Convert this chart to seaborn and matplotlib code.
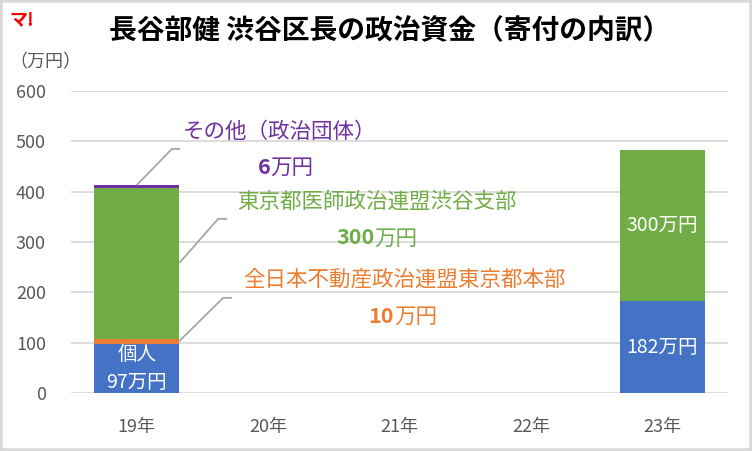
import numpy as np
import matplotlib
matplotlib.use("Agg")
import matplotlib.pyplot as plt
from matplotlib.patches import Rectangle
from matplotlib.offsetbox import TextArea, HPacker, AnnotationBbox
import seaborn as sns

# ---------------- data ----------------
years = ["19年", "20年", "21年", "22年", "23年"]
donors = ["個人", "全日本不動産政治連盟東京都本部", "東京都医師政治連盟渋谷支部", "その他（政治団体）"]
kojin = [97, 0, 0, 0, 182]
fudosan = [10, 0, 0, 0, 0]
ishi = [300, 0, 0, 0, 300]
sonota = [6, 0, 0, 0, 0]
colors = ["#4472C4", "#ED7D31", "#70AD47", "#7030A0"]
yticks = [0, 100, 200, 300, 400, 500, 600]

# ---------------- style ----------------
sns.set_theme(style="white")
plt.rcParams['font.family'] = ['Noto Sans CJK JP', 'DejaVu Sans']

fig = plt.figure(figsize=(7.52, 4.51), dpi=100)
ax = fig.add_axes([71 / 752, 58 / 451, 657 / 752, 302 / 451])

layers = np.array([kojin, fudosan, ishi, sonota])
cum = np.cumsum(layers, axis=0)
bar_w = 0.647

# stacked bars: draw cumulative totals back to front
for i in range(len(layers) - 1, -1, -1):
    sns.barplot(x=years, y=cum[i], color=colors[i], width=bar_w, saturation=1,
                linewidth=0, errorbar=None, ax=ax, zorder=2)

ax.set_xlim(-0.5, len(years) - 0.5)
ax.set_ylim(0, 600)
ax.set_yticks(yticks)
ax.yaxis.grid(True, color="#D9D9D9", lw=1.3)
ax.set_axisbelow(True)
for s in ax.spines.values():
    s.set_visible(False)
ax.tick_params(axis='both', length=0, labelsize=13, labelcolor="#595959")
ax.tick_params(axis='y', pad=18)
ax.tick_params(axis='x', pad=18)
ax.set_xlabel("")
ax.set_ylabel("")

# labels inside bars
bottoms = cum - layers
ax.text(0, (bottoms[0][0] + cum[0][0]) / 2, f"{donors[0]}\n{kojin[0]}万円", ha="center",
        va="center", color="white", fontsize=14, linespacing=1.45, zorder=3)
for i in (0, 2):
    v = layers[i][4]
    ax.text(4, (bottoms[i][4] + cum[i][4]) / 2, f"{v}万円", ha="center", va="center",
            color="white", fontsize=14, zorder=3)

# callouts for 19年 bar
callouts = {
    3: dict(name=(1.09, 519), value=(1.135, 448),
            line=[(0.0, 413), (0.268, 485), (0.331, 485)]),
    2: dict(name=(1.828, 380), value=(1.828, 307),
            line=[(0.3235, 258), (0.620, 346), (0.689, 346)]),
    1: dict(name=(2.036, 224.5), value=(2.026, 151.6),
            line=[(0.3235, 103), (0.658, 189), (0.726, 189)]),
}
for i, c in callouts.items():
    xs, ys = zip(*c["line"])
    ax.plot(xs, ys, color="#A6A6A6", lw=1.3, zorder=3, solid_capstyle="butt")
    ax.text(*c["name"], donors[i], ha="center", va="center", color=colors[i], fontsize=15.5)
    # number in bold, unit in regular weight
    num = TextArea(str(layers[i][0]), textprops=dict(color=colors[i], fontsize=15.5,
                                                     fontweight="bold"))
    unit = TextArea("万円", textprops=dict(color=colors[i], fontsize=15.5))
    box = HPacker(children=[num, unit], pad=0, sep=0, align="baseline")
    ab = AnnotationBbox(box, c["value"], frameon=False, box_alignment=(0.5, 0.5), pad=0)
    ax.add_artist(ab)

# titles and misc text
fig.text(390 / 752, 1 - 31 / 451, "長谷部健 渋谷区長の政治資金（寄付の内訳）", ha="center",
         va="center", fontsize=20, fontweight="bold", color="black")
fig.text(9 / 752, 1 - 62 / 451, "（万円）", ha="left", va="center", fontsize=13, color="#595959")
fig.text(9 / 752, 1 - 20 / 451, "マ!", ha="left", va="center", fontsize=13, fontweight="bold",
         color="#FF0000", style="italic")

fig.add_artist(Rectangle((0, 0), 1, 1, transform=fig.transFigure, fill=False,
                         edgecolor="#D9D9D9", lw=4))

fig.savefig("out.png", dpi=100)
